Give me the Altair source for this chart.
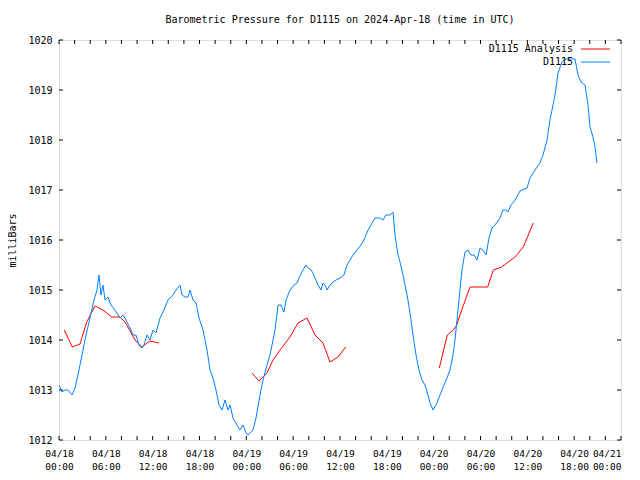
import altair as alt
import pandas as pd

# ---- data (hours since 2024-04-18 00:00 UTC, pressure in mb) ----
obs_hours = [0.0, 0.38, 0.77, 1.15, 1.67, 2.05, 2.43, 2.95, 3.46, 3.97, 4.48, 4.87, 5.12, 5.38, 5.64, 5.89,
             6.28, 6.66, 7.17, 7.82, 8.20, 8.58, 9.10, 9.48, 9.86, 10.25, 10.63, 10.89, 11.27, 11.66, 12.04,
             12.43, 12.94, 13.45, 13.96, 14.60, 14.99, 15.50, 15.76, 16.14, 16.53, 16.78, 17.17, 17.55, 17.94,
             18.45, 18.96, 19.35, 19.73, 20.11, 20.50, 20.88, 21.27, 21.65, 21.91, 22.29, 22.80, 23.19, 23.57,
             23.96, 24.21, 24.60, 24.85, 25.24, 25.75, 26.14, 26.65, 27.03, 27.42, 27.67, 28.06, 28.44, 28.83,
             29.08, 29.60, 30.11, 30.49, 30.75, 31.26, 31.64, 31.90, 32.29, 32.54, 32.80, 33.18, 33.57, 33.82,
             34.08, 34.34, 34.72, 35.10, 35.49, 36.00, 36.51, 36.90, 37.28, 37.67, 38.18, 38.69, 39.07, 39.59,
             39.97, 40.48, 41.12, 41.51, 41.89, 42.41, 42.79, 43.05, 43.43, 43.69, 44.07, 44.33, 44.71, 45.10,
             45.35, 45.74, 46.12, 46.51, 46.89, 47.27, 47.53, 47.91, 48.30, 48.81, 49.32, 49.71, 50.09, 50.48,
             50.73, 50.99, 51.37, 51.63, 52.01, 52.40, 52.78, 53.17, 53.55, 53.94, 54.32, 54.71, 55.09, 55.47,
             55.86, 56.50, 56.88, 57.27, 57.52, 57.91, 58.42, 59.06, 59.96, 60.34, 60.98, 61.62, 62.01, 62.52,
             62.90, 63.55, 63.93, 64.44, 64.83, 66.11, 66.49, 66.88, 67.39, 67.77, 68.03, 68.41, 68.67, 68.92]
obs_mb = [1013.10, 1012.96, 1013.00, 1013.00, 1012.90, 1013.04, 1013.30, 1013.70, 1014.10, 1014.44, 1014.80,
          1015.00, 1015.30, 1014.90, 1015.10, 1014.80, 1014.86, 1014.70, 1014.60, 1014.44, 1014.50, 1014.40,
          1014.24, 1014.10, 1014.10, 1013.90, 1013.84, 1013.90, 1014.10, 1014.00, 1014.20, 1014.14, 1014.44,
          1014.60, 1014.80, 1014.90, 1015.00, 1015.10, 1014.90, 1014.86, 1014.86, 1015.00, 1014.80, 1014.74,
          1014.44, 1014.20, 1013.80, 1013.40, 1013.24, 1013.00, 1012.70, 1012.60, 1012.80, 1012.60, 1012.70,
          1012.44, 1012.30, 1012.20, 1012.30, 1012.14, 1012.10, 1012.16, 1012.20, 1012.44, 1012.90, 1013.20,
          1013.50, 1013.70, 1014.00, 1014.20, 1014.70, 1014.70, 1014.56, 1014.80, 1015.00, 1015.10, 1015.14,
          1015.24, 1015.40, 1015.50, 1015.44, 1015.40, 1015.34, 1015.24, 1015.10, 1015.00, 1015.14, 1015.10,
          1015.00, 1015.10, 1015.16, 1015.20, 1015.24, 1015.30, 1015.50, 1015.60, 1015.70, 1015.80, 1015.90,
          1016.00, 1016.20, 1016.30, 1016.44, 1016.44, 1016.40, 1016.50, 1016.50, 1016.56, 1016.10, 1015.70,
          1015.56, 1015.30, 1015.10, 1014.80, 1014.40, 1014.10, 1013.70, 1013.40, 1013.20, 1013.10, 1012.90,
          1012.74, 1012.60, 1012.70, 1012.90, 1013.10, 1013.24, 1013.40, 1013.70, 1014.00, 1014.40, 1015.00,
          1015.40, 1015.76, 1015.80, 1015.70, 1015.70, 1015.60, 1015.84, 1015.80, 1015.70, 1016.04, 1016.24,
          1016.30, 1016.44, 1016.60, 1016.60, 1016.56, 1016.70, 1016.80, 1016.98, 1017.04, 1017.24, 1017.40,
          1017.54, 1017.70, 1018.00, 1018.40, 1018.90, 1019.34, 1019.56, 1019.62, 1019.62, 1019.30, 1019.16,
          1019.10, 1018.70, 1018.26, 1018.06, 1017.86, 1017.54]

ana_hours_1 = [0.68, 1.70, 2.69, 3.55, 4.61, 5.64, 6.75, 7.82, 8.46, 9.74, 10.60, 11.66, 12.81]
ana_mb_1 = [1014.20, 1013.86, 1013.92, 1014.36, 1014.68, 1014.60, 1014.46, 1014.46, 1014.36, 1014.00,
            1013.86, 1013.98, 1013.94]
ana_hours_2 = [24.73, 25.62, 26.65, 27.42, 28.31, 29.59, 30.62, 31.77, 32.80, 33.82, 34.72, 35.74, 36.73]
ana_mb_2 = [1013.34, 1013.18, 1013.34, 1013.60, 1013.80, 1014.06, 1014.34, 1014.44, 1014.10, 1013.94,
            1013.56, 1013.66, 1013.86]
ana_hours_3 = [48.72, 49.75, 50.52, 50.95, 51.59, 52.66, 54.16, 54.92, 55.64, 56.72, 58.42, 59.48, 60.76]
ana_mb_3 = [1013.44, 1014.10, 1014.20, 1014.30, 1014.60, 1015.06, 1015.06, 1015.06, 1015.40, 1015.46,
            1015.66, 1015.86, 1016.34]

series_names = ["D1115 Analysis", "D1115"]
series_colors = ["#ff0000", "#0080ff"]
y_ticks = [1012, 1013, 1014, 1015, 1016, 1017, 1018, 1019, 1020]
x_label_hours = [0, 6, 12, 18, 24, 30, 36, 42, 48, 54, 60, 66, 72]
x_tick_hours = list(range(0, 73, 2))

title_text = "Barometric Pressure for D1115 on 2024-Apr-18 (time in UTC)"
y_title = "milliBars"

# ---- build tables ----
T0 = pd.Timestamp("2024-04-18T00:00:00Z").value // 10**6  # ms


def to_ms(h):
    return T0 + h * 3600000.0


rows = []
for seg, (hs, ps) in enumerate([(ana_hours_1, ana_mb_1), (ana_hours_2, ana_mb_2), (ana_hours_3, ana_mb_3)]):
    for h, p in zip(hs, ps):
        rows.append({"t": to_ms(h), "p": p, "series": series_names[0], "seg": f"a{seg}", "order": 0})
for h, p in zip(obs_hours, obs_mb):
    rows.append({"t": to_ms(h), "p": p, "series": series_names[1], "seg": "obs", "order": 1})
df = pd.DataFrame(rows)

W, H = 562, 400
FONT = "DejaVu Sans Mono"
xdom = [to_ms(0), to_ms(72)]
T_END = int(to_ms(72))

xscale = alt.Scale(type="utc", domain=xdom, nice=False)
yscale = alt.Scale(domain=[1012, 1020], nice=False, zero=False)

lines = alt.Chart(df).mark_line(strokeWidth=1, interpolate="linear").encode(
    x=alt.X("t:T", scale=xscale, axis=alt.Axis(
        values=[to_ms(h) for h in x_label_hours],
        labelExpr="[utcFormat(datum.value, '%m/%d'), utcFormat(datum.value, '%H:%M')]",
        ticks=False, domain=False, grid=False, title=None, labelFont=FONT, labelFontSize=9.5,
        labelColor="black", labelPadding=8, labelLineHeight=13, labelBaseline="top", labelFlush=False,
        labelOverlap=False,
        labelAlign={"condition": {"test": f"datum.value >= {T_END}", "value": "right"}, "value": "center"})),
    y=alt.Y("p:Q", scale=yscale, axis=alt.Axis(
        values=y_ticks, format="d", ticks=False, domain=False, grid=False, labelFont=FONT,
        labelFontSize=10, labelColor="black", labelPadding=7, title=y_title, titleFont=FONT,
        titleFontSize=10, titleFontWeight="normal", titleColor="black", titleAngle=270,
        titleX=-47, titleY=200, titleAlign="center", titleBaseline="middle")),
    color=alt.Color("series:N", scale=alt.Scale(domain=series_names, range=series_colors), legend=None),
    detail="seg:N",
    order="order:Q",
)

xt = pd.DataFrame({"t": [to_ms(h) for h in x_tick_hours]})
yt = pd.DataFrame({"p": y_ticks})

xticks_bottom = alt.Chart(xt).mark_rule(color="black", strokeWidth=1).encode(
    x=alt.X("t:T", scale=xscale), y=alt.value(H), y2=alt.value(H - 4))
xticks_top = alt.Chart(xt).mark_rule(color="black", strokeWidth=1).encode(
    x=alt.X("t:T", scale=xscale), y=alt.value(0), y2=alt.value(4))
yticks_left = alt.Chart(yt).mark_rule(color="black", strokeWidth=1).encode(
    y=alt.Y("p:Q", scale=yscale), x=alt.value(0), x2=alt.value(4))
yticks_right = alt.Chart(yt).mark_rule(color="black", strokeWidth=1).encode(
    y=alt.Y("p:Q", scale=yscale), x=alt.value(W), x2=alt.value(W - 4))

leg = pd.DataFrame({"name": series_names, "color": series_colors, "row": [0, 1]})
leg_text0 = alt.Chart(leg[leg.row == 0]).mark_text(font=FONT, fontSize=10, align="right",
                                                  baseline="middle", color="black").encode(
    text="name:N", x=alt.value(514), y=alt.value(9))
leg_text1 = alt.Chart(leg[leg.row == 1]).mark_text(font=FONT, fontSize=10, align="right",
                                                  baseline="middle", color="black").encode(
    text="name:N", x=alt.value(514), y=alt.value(22))
leg_line0 = alt.Chart(leg[leg.row == 0]).mark_rule(strokeWidth=1, color=series_colors[0]).encode(
    x=alt.value(522), x2=alt.value(551), y=alt.value(9))
leg_line1 = alt.Chart(leg[leg.row == 1]).mark_rule(strokeWidth=1, color=series_colors[1]).encode(
    x=alt.value(522), x2=alt.value(551), y=alt.value(22))

chart = alt.layer(
    xticks_bottom, xticks_top, yticks_left, yticks_right,
    lines, leg_text0, leg_text1, leg_line0, leg_line1,
).properties(
    width=W, height=H,
    title=alt.TitleParams(title_text, font=FONT, fontSize=10, fontWeight="normal", color="black",
                          anchor="middle", offset=10),
    autosize="none",
    padding={"left": 51, "top": 32, "right": 11, "bottom": 32},
).configure_view(stroke="black", strokeWidth=1).configure(background="white")

chart.save("out.html", embed_options={"renderer": "svg", "actions": False})
